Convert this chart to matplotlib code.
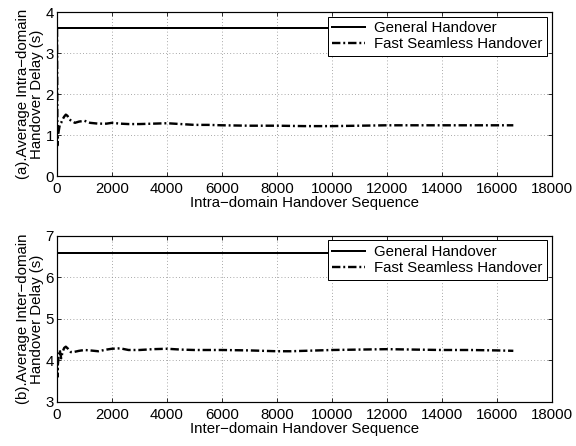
import matplotlib
matplotlib.use('Agg')
import matplotlib.pyplot as plt

plt.rcParams['font.family'] = ['Liberation Sans', 'DejaVu Sans']
plt.rcParams['font.size'] = 15

# (a) intra-domain
intra_x = [0, 15, 30, 60, 100, 150, 200, 260, 320, 380, 450, 550, 650, 800, 1000, 1200, 1500, 1800, 2000,
           2300, 2600, 3000, 3500, 4000, 4500, 5000, 5500, 6000, 7000, 8000, 9000, 10000, 11000, 12000,
           13000, 14000, 15000, 16000, 16600]
intra_fast = [3.6, 0.75, 0.95, 1.1, 1.25, 1.3, 1.38, 1.45, 1.5, 1.47, 1.38, 1.34, 1.3, 1.33, 1.35, 1.3, 1.28, 1.28, 1.3,
              1.28, 1.27, 1.27, 1.28, 1.29, 1.27, 1.25, 1.25, 1.24, 1.23, 1.23, 1.22, 1.22, 1.23, 1.24,
              1.24, 1.24, 1.24, 1.24, 1.24]
intra_general = 3.6

# (b) inter-domain
inter_x = [0, 15, 30, 60, 100, 150, 200, 260, 320, 400, 500, 600, 800, 1000, 1200, 1500, 1800, 2000,
           2300, 2600, 3000, 3500, 4000, 4500, 5000, 6000, 7000, 8000, 8500, 9000, 10000, 11000, 12000,
           13000, 14000, 15000, 16000, 16600]
inter_fast = [4.1, 3.6, 3.9, 4.1, 4.25, 4.05, 4.2, 4.3, 4.33, 4.28, 4.2, 4.2, 4.23, 4.25, 4.24, 4.22, 4.26, 4.28,
              4.29, 4.25, 4.25, 4.27, 4.28, 4.26, 4.25, 4.25, 4.24, 4.22, 4.22, 4.23, 4.25, 4.26, 4.27,
              4.26, 4.25, 4.25, 4.24, 4.23]
inter_general = 6.6

xticks = list(range(0, 18001, 2000))

fig = plt.figure(figsize=(8, 446 / 72), dpi=72)
ax1 = fig.add_axes([0.099, 0.605, 0.859, 0.368])
ax2 = fig.add_axes([0.099, 0.099, 0.859, 0.372])

panels = [
    (ax1, intra_x, intra_fast, intra_general, (0, 4), [0, 1, 2, 3, 4],
     'Intra\u2212domain Handover Sequence', '(a).Average Intra\u2212domain\nHandover Delay (s)'),
    (ax2, inter_x, inter_fast, inter_general, (3, 7), [3, 4, 5, 6, 7],
     'Inter\u2212domain Handover Sequence', '(b).Average Inter\u2212domain\nHandover Delay (s)'),
]

for ax, x, fast, general, ylim, yticks, xlabel, ylabel in panels:
    ax.plot([0, x[-1]], [general, general], '-', color='black', lw=2, label='General Handover')
    ax.plot(x, fast, color='black', lw=2.4, linestyle=(0, (3.5, 1.2, 0.8, 1.2)), label='Fast Seamless Handover')
    ax.set_xlim(0, 18000)
    ax.set_ylim(*ylim)
    ax.set_xticks(xticks)
    ax.set_yticks(yticks)
    ax.grid(True, linestyle=(0, (1, 3)), color='gray', lw=0.8)
    ax.tick_params(direction='in', top=True, right=True, length=4)
    ax.tick_params(axis='x', pad=6)
    ax.tick_params(axis='y', pad=3)
    for s in ax.spines.values():
        s.set_linewidth(1.2)
    ax.set_xlabel(xlabel, labelpad=0)
    ax.set_ylabel(ylabel, labelpad=2, linespacing=1.0)
    leg = ax.legend(loc='upper right', fancybox=False, framealpha=1, borderaxespad=0.3,
                    handlelength=2.2, borderpad=0.3, labelspacing=0.15, handletextpad=0.6)
    leg.get_frame().set_edgecolor('black')
    leg.get_frame().set_linewidth(1.0)

fig.savefig('out.png', dpi=72)
